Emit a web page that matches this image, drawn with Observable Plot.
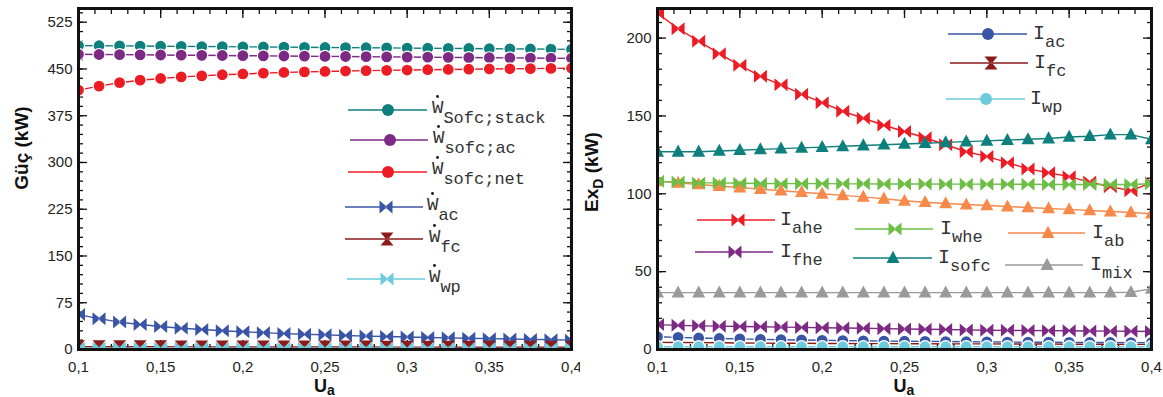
<!DOCTYPE html>
<html><head><meta charset="utf-8">
<script src="https://cdn.jsdelivr.net/npm/d3@7"></script>
<script src="https://cdn.jsdelivr.net/npm/@observablehq/plot@0.6"></script>
<style>
body{margin:0;background:#fff;}
#wrap{display:flex;width:1163px;height:397px;}
#wrap svg{overflow:visible;display:block}
</style></head><body><div id="wrap"></div>
<script>
// ---- data ----
const ua = [0.1, 0.1125, 0.125, 0.1375, 0.15, 0.1625, 0.175, 0.1875, 0.2, 0.2125, 0.225, 0.2375, 0.25, 0.2625, 0.275, 0.2875, 0.3, 0.3125, 0.325, 0.3375, 0.35, 0.3625, 0.375, 0.3875, 0.4];
const xMajor = [0.1, 0.15, 0.2, 0.25, 0.3, 0.35, 0.4];
const xLabels = ["0,1", "0,15", "0,2", "0,25", "0,3", "0,35", "0,4"];

// left panel (Güç, kW)
const wStack  = [487.5, 487.3, 487, 486.8, 486.5, 486.3, 486, 485.8, 485.5, 485.3, 485, 484.8, 484.5, 484.3, 484, 483.8, 483.5, 483.3, 483, 482.8, 482.5, 482.3, 482, 481.8, 481.5];
const wSofcAc = [473.5, 473.2, 473, 472.7, 472.4, 472.1, 471.9, 471.6, 471.3, 471, 470.8, 470.5, 470.2, 470, 469.7, 469.4, 469.1, 468.9, 468.6, 468.3, 468, 467.8, 467.5, 467.2, 467];
const wNet    = [416, 422.5, 428, 432, 434.8, 437.3, 439, 440.7, 442, 443.3, 444.4, 445.3, 446, 446.7, 447.3, 447.8, 448.3, 448.8, 449.2, 449.6, 450, 450.3, 450.6, 450.9, 451.2];
const wAc     = [56, 49.5, 44, 40, 37, 34, 32, 30, 28.5, 27, 25.5, 24.5, 23.5, 22.5, 21.5, 20.8, 20, 19.3, 18.7, 18, 17.4, 16.8, 16.2, 15.6, 15];
const wFc     = [4.5, 4.4, 4.4, 4.3, 4.3, 4.2, 4.2, 4.1, 4.1, 4, 4, 4, 3.9, 3.9, 3.9, 3.8, 3.8, 3.8, 3.7, 3.7, 3.7, 3.6, 3.6, 3.6, 3.5];
const wWp     = [2, 2, 2, 2, 2, 2, 2, 2, 1.9, 1.9, 1.9, 1.9, 1.9, 1.9, 1.9, 1.9, 1.8, 1.8, 1.8, 1.8, 1.8, 1.8, 1.8, 1.8, 1.8];
const yLeftMajor = [0, 75, 150, 225, 300, 375, 450, 525];

// right panel (Ex_D, kW)
const iAhe  = [216, 206, 198, 190, 182.5, 175.5, 170, 164, 158.5, 153, 148.5, 144, 140, 136, 131.5, 127, 124, 120, 116, 113.5, 111, 107.5, 104.5, 102, 107];
const iWhe  = [108, 107.5, 107, 107, 106.8, 106.6, 106.5, 106.5, 106.5, 106.4, 106.4, 106.3, 106.3, 106.3, 106.2, 106.2, 106.2, 106.1, 106.1, 106, 106, 106, 106, 106, 106.5];
const iAb   = [108, 107, 106, 105, 104, 103, 102, 101, 100, 99, 98, 96.8, 95.5, 94.6, 93.8, 93.1, 92.5, 91.8, 91.2, 90.6, 90, 89.3, 88.6, 88, 87.2];
const iSofc = [127, 127, 127, 127.5, 128, 128.5, 129, 129.5, 130, 130.5, 131, 131.5, 132, 132.5, 133, 133.5, 134, 134.5, 135, 135.5, 136.5, 137, 138, 138, 135];
const iMix  = [36.5, 36.5, 36.5, 36.5, 36.5, 36.5, 36.5, 36.5, 36.5, 36.5, 36.5, 36.5, 36.5, 36.5, 36.5, 36.5, 36.5, 36.5, 36.5, 36.5, 36.5, 36.5, 36.5, 36.8, 39];
const iFhe  = [16, 15.5, 15.2, 15, 14.8, 14.6, 14.4, 14.2, 14, 13.8, 13.6, 13.4, 13.2, 13, 12.8, 12.6, 12.4, 12.3, 12.2, 12.1, 12, 11.9, 11.8, 11.7, 11.6];
const iAc   = [8.2, 7.8, 7.4, 7.1, 6.8, 6.5, 6.3, 6.1, 5.9, 5.7, 5.6, 5.4, 5.3, 5.2, 5.1, 5, 4.9, 4.8, 4.7, 4.7, 4.6, 4.5, 4.5, 4.4, 4.4];
const iFc   = [4.6, 4.5, 4.4, 4.3, 4.2, 4.1, 4, 4, 3.9, 3.9, 3.8, 3.8, 3.7, 3.7, 3.6, 3.6, 3.6, 3.5, 3.5, 3.5, 3.4, 3.4, 3.4, 3.3, 3.3];
const iWp   = [1.8, 1.8, 1.8, 1.8, 1.8, 1.8, 1.8, 1.8, 1.8, 1.8, 1.8, 1.8, 1.8, 1.8, 1.8, 1.8, 1.8, 1.8, 1.8, 1.8, 1.8, 1.8, 1.8, 1.8, 1.8];
const yRightMajor = [0, 50, 100, 150, 200];

// ---- symbols ----
const half = s => Math.sqrt(s / Math.PI);
const symCircle = d3.symbolCircle;
const symBowtie = {draw(c, s){ const r = half(s);
  c.moveTo(-r, -r); c.lineTo(0.2*r, 0); c.lineTo(-r, r); c.closePath();
  c.moveTo(r, -r); c.lineTo(-0.2*r, 0); c.lineTo(r, r); c.closePath(); }};
const symHourglass = {draw(c, s){ const r = half(s);
  c.moveTo(-r, -r); c.lineTo(0, 0.2*r); c.lineTo(r, -r); c.closePath();
  c.moveTo(-r, r); c.lineTo(0, -0.2*r); c.lineTo(r, r); c.closePath(); }};
const symTriangle = {draw(c, s){ const r = half(s);
  c.moveTo(0, -1.1*r); c.lineTo(r, 0.75*r); c.lineTo(-r, 0.75*r); c.closePath(); }};

const C = {teal:"#0d7f7c", purple:"#7d2a85", red:"#ed1c24", blue:"#3a55a5", darkred:"#8c1b1b",
  cyan:"#6ccbdc", green:"#6dbe45", orange:"#f7894a", gray:"#9a9a9c"};

const FONT = "'Liberation Sans', Arial, sans-serif";
const MONO = "'Liberation Mono', 'Courier New', monospace";

function symPath(sym, r){ const p = d3.path(); sym.draw(p, r*r*Math.PI); return p.toString(); }

function panel({width, marginLeft, marginRight, yDomain, yMajor, yMinor, series}) {
  const xMinor = d3.range(10, 41).map(d => d / 100);
  const marks = [];
  const tickOpts = {tickFormat: () => "", label: null, stroke: "#111", strokeWidth: 1.3};
  marks.push(Plot.axisX(xMinor, {anchor: "bottom", tickSize: -5, ...tickOpts}));
  marks.push(Plot.axisX(xMinor, {anchor: "top", tickSize: -5, ...tickOpts}));
  marks.push(Plot.axisX(xMajor, {anchor: "top", tickSize: -9, ...tickOpts}));
  marks.push(Plot.axisY(yMinor, {anchor: "left", tickSize: -5, ...tickOpts}));
  marks.push(Plot.axisY(yMinor, {anchor: "right", tickSize: -5, ...tickOpts}));
  marks.push(Plot.axisY(yMajor, {anchor: "right", tickSize: -9, ...tickOpts}));
  marks.push(Plot.axisX(xMajor, {anchor: "bottom", tickSize: -9, tickPadding: 21, label: null,
    tickFormat: d => xLabels[xMajor.indexOf(d)], fontSize: 15, fill: "#231f20", stroke: "#111", strokeWidth: 1.3}));
  marks.push(Plot.axisY(yMajor, {anchor: "left", tickSize: -9, tickPadding: 15, label: null,
    tickFormat: d => String(d), fontSize: 15, fill: "#231f20", stroke: "#111", strokeWidth: 1.3}));
  for (const s of series) {
    const data = ua.map((x, i) => ({x, y: s.ys[i]}));
    marks.push(Plot.line(data, {x: "x", y: "y", stroke: s.color, strokeWidth: 1.4, clip: true}));
    marks.push(Plot.dot(data, {x: "x", y: "y", symbol: s.sym, r: s.r, fill: s.color,
      stroke: s.sym === symCircle ? "white" : "none", strokeWidth: 1.2, clip: true}));
  }
  marks.push(Plot.frame({stroke: "#111", strokeWidth: 3}));
  return Plot.plot({width, height: 397, marginTop: 8, marginBottom: 48, marginLeft, marginRight,
    x: {domain: [0.1, 0.4], label: null}, y: {domain: yDomain, label: null},
    style: {fontFamily: FONT, background: "white", overflow: "visible"}, marks});
}

function addLegend(svg, items, mainChar, mainSize, subSize, subDy) {
  const g = d3.select(svg).append("g").attr("text-anchor", "start");
  for (const it of items) {
    g.append("line").attr("x1", it.x1).attr("x2", it.x2).attr("y1", it.y).attr("y2", it.y)
      .attr("stroke", it.color).attr("stroke-width", 1.6);
    g.append("path").attr("d", symPath(it.sym, it.r)).attr("transform", `translate(${it.m},${it.y})`)
      .attr("fill", it.color);
    const t = g.append("text").attr("x", it.tx).attr("y", it.base).attr("text-anchor", "start")
      .attr("font-family", MONO).attr("fill", "#333");
    t.append("tspan").attr("font-size", mainSize).text(mainChar);
    t.append("tspan").attr("font-size", subSize).attr("dy", subDy).text(it.sub);
    if (mainChar === "W") {
      // dot-above accent (time derivative) over the W
      g.append("circle").attr("cx", it.tx + 5.5).attr("cy", it.base - 16.5).attr("r", 1.4).attr("fill", "#111");
    }
  }
}

function addTitles(svg, yTitle, cx, yX, yY) {
  const s = d3.select(svg);
  const t = s.append("text").attr("transform", `translate(${yX},${yY}) rotate(-90)`)
    .attr("text-anchor", "middle").attr("font-family", FONT).attr("font-weight", "bold")
    .attr("font-size", 19).attr("fill", "#111");
  t.append("tspan").text(yTitle.main);
  if (yTitle.sub) t.append("tspan").attr("font-size", 14).attr("dy", 5).text(yTitle.sub);
  if (yTitle.rest) t.append("tspan").attr("dy", -5).text(yTitle.rest);
  const u = s.append("text").attr("x", cx).attr("y", 392).attr("text-anchor", "middle")
    .attr("font-family", FONT).attr("font-weight", "bold").attr("font-size", 18).attr("fill", "#111");
  u.append("tspan").text("U");
  u.append("tspan").attr("font-size", 14).attr("dy", 3).text("a");
}

const wrap = document.getElementById("wrap");

const left = panel({width: 580, marginLeft: 78, marginRight: 9, yDomain: [0, 547],
  yMajor: yLeftMajor, yMinor: d3.range(0, 547, 15),
  series: [
    {ys: wStack, color: C.teal, sym: symCircle, r: 6},
    {ys: wSofcAc, color: C.purple, sym: symCircle, r: 6},
    {ys: wNet, color: C.red, sym: symCircle, r: 6},
    {ys: wAc, color: C.blue, sym: symBowtie, r: 6.5},
    {ys: wFc, color: C.darkred, sym: symHourglass, r: 6.5},
    {ys: wWp, color: C.cyan, sym: symBowtie, r: 6.5}
  ]});
wrap.appendChild(left);
addLegend(left, [
  {x1: 348, x2: 427, y: 110, m: 388, tx: 432, base: 113, color: C.teal, sym: symCircle, r: 6, sub: "Sofc;stack"},
  {x1: 350, x2: 428, y: 140, m: 390, tx: 433, base: 143, color: C.purple, sym: symCircle, r: 6, sub: "sofc;ac"},
  {x1: 348, x2: 427, y: 172, m: 388, tx: 432, base: 174, color: C.red, sym: symCircle, r: 6, sub: "sofc;net"},
  {x1: 345, x2: 423, y: 207, m: 386, tx: 427, base: 210, color: C.blue, sym: symBowtie, r: 6.5, sub: "ac"},
  {x1: 345, x2: 423, y: 239, m: 387, tx: 429, base: 242, color: C.darkred, sym: symHourglass, r: 6.5, sub: "fc"},
  {x1: 347, x2: 425, y: 279, m: 387, tx: 429, base: 282, color: C.cyan, sym: symBowtie, r: 6.5, sub: "wp"}
], "W", 19, 17, 10);
addTitles(left, {main: "Güç (kW)"}, 324.5, 28, 148);

const right = panel({width: 583, marginLeft: 77, marginRight: 12, yDomain: [0, 219],
  yMajor: yRightMajor, yMinor: d3.range(0, 219, 10),
  series: [
    {ys: iAhe, color: C.red, sym: symBowtie, r: 6.5},
    {ys: iAb, color: C.orange, sym: symTriangle, r: 6.5},
    {ys: iWhe, color: C.green, sym: symBowtie, r: 6.5},
    {ys: iSofc, color: C.teal, sym: symTriangle, r: 6.5},
    {ys: iMix, color: C.gray, sym: symTriangle, r: 6.5},
    {ys: iFhe, color: C.purple, sym: symBowtie, r: 6.5},
    {ys: iFc, color: C.darkred, sym: symHourglass, r: 5},
    {ys: iAc, color: C.blue, sym: symCircle, r: 6},
    {ys: iWp, color: C.cyan, sym: symCircle, r: 6}
  ]});
wrap.appendChild(right);
addLegend(right, [
  {x1: 368, x2: 447, y: 34, m: 408, tx: 453, base: 39, color: C.blue, sym: symCircle, r: 6, sub: "ac"},
  {x1: 370, x2: 448, y: 63, m: 411, tx: 454, base: 68, color: C.darkred, sym: symHourglass, r: 6.5, sub: "fc"},
  {x1: 366, x2: 445, y: 99, m: 406, tx: 450, base: 104, color: C.cyan, sym: symCircle, r: 6, sub: "wp"},
  {x1: 117, x2: 195, y: 220, m: 158, tx: 200, base: 225, color: C.red, sym: symBowtie, r: 6.5, sub: "ahe"},
  {x1: 275, x2: 353, y: 229, m: 315, tx: 360, base: 234, color: C.green, sym: symBowtie, r: 6.5, sub: "whe"},
  {x1: 428, x2: 505, y: 233, m: 468, tx: 512, base: 238, color: C.orange, sym: symTriangle, r: 6.5, sub: "ab"},
  {x1: 115, x2: 193, y: 252, m: 155, tx: 200, base: 257, color: C.purple, sym: symBowtie, r: 6.5, sub: "fhe"},
  {x1: 273, x2: 352, y: 258, m: 313, tx: 358, base: 263, color: C.teal, sym: symTriangle, r: 6.5, sub: "sofc"},
  {x1: 425, x2: 503, y: 265, m: 467, tx: 510, base: 270, color: C.gray, sym: symTriangle, r: 6.5, sub: "mix"}
], "I", 20, 17, 8);
addTitles(right, {main: "Ex", sub: "D", rest: " (kW)"}, 324, 18, 172);
</script></body></html>
